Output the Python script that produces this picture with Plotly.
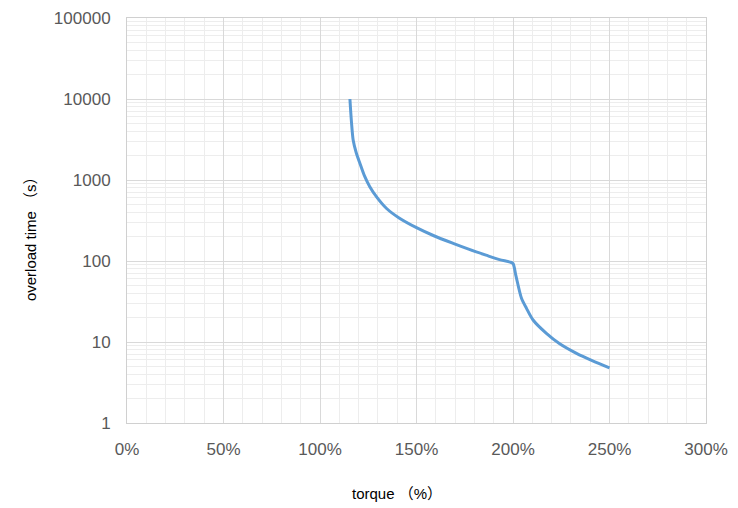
import plotly.graph_objects as go

torque_pct = [115.5, 116.3, 117.2, 118.7, 120.7, 123.0, 125.8, 129.5, 134.5, 141.0, 150.0, 159.0, 169.0, 177.0, 186.0, 193.0, 198.5, 200.0, 201.5, 204.4, 207.0, 210.4, 217.3, 224.0, 232.9, 241.0, 250.0]
overload_s = [10000, 5200, 3100, 2200, 1600, 1130, 826, 610, 445, 340, 258, 205, 165, 140, 118, 104, 97, 93, 66, 34.6, 26, 18.7, 12.8, 9.6, 7.25, 5.9, 4.8]

x_ticks = [0, 50, 100, 150, 200, 250, 300]
x_labels = ["0%", "50%", "100%", "150%", "200%", "250%", "300%"]
y_ticks = [1, 10, 100, 1000, 10000, 100000]
y_labels = ["1", "10", "100", "1000", "10000", "100000"]
x_title = "torque （%）"
y_title = "overload time （s）"

fig = go.Figure()
fig.add_trace(go.Scatter(
    x=torque_pct, y=overload_s, mode="lines",
    line=dict(color="#5B9BD5", width=3, shape="spline", smoothing=0.8),
    showlegend=False, hoverinfo="skip"))

font_main = "Liberation Sans, Arial, Noto Sans CJK SC, sans-serif"
# the page body adds an 8px offset; margins compensate for it
fig.update_layout(
    width=738, height=508,
    margin=dict(l=119, r=40, t=10, b=93),
    paper_bgcolor="white", plot_bgcolor="white",
    font=dict(family=font_main, size=17, color="#595959"),
)
fig.update_xaxes(
    range=[0, 300], tickvals=x_ticks, ticktext=x_labels, automargin=False,
    showgrid=True, gridcolor="#d9d9d9", gridwidth=1,
    minor=dict(dtick=10, showgrid=True, gridcolor="#ededed", gridwidth=1),
    showline=True, linecolor="#d0d0d0", linewidth=1, mirror=True,
    zeroline=False, ticks="", ticklabelstandoff=11,
)
fig.update_yaxes(
    type="log", range=[0, 5], tickvals=y_ticks, ticktext=y_labels, automargin=False,
    showgrid=True, gridcolor="#d9d9d9", gridwidth=1,
    minor=dict(dtick="D1", showgrid=True, gridcolor="#ededed", gridwidth=1),
    showline=True, linecolor="#d0d0d0", linewidth=1, mirror=True,
    zeroline=False, ticks="", ticklabelstandoff=12,
)
title_font = dict(size=15, color="#000000", family=font_main)
fig.add_annotation(text=x_title, xref="paper", yref="paper", x=0.466, y=-0.175,
                   xanchor="center", yanchor="middle", showarrow=False, font=title_font)
fig.add_annotation(text=y_title, xref="paper", yref="paper", x=-0.1675, y=0.464,
                   xanchor="center", yanchor="middle", textangle=-90, showarrow=False, font=title_font)
fig.write_html("out.html")
